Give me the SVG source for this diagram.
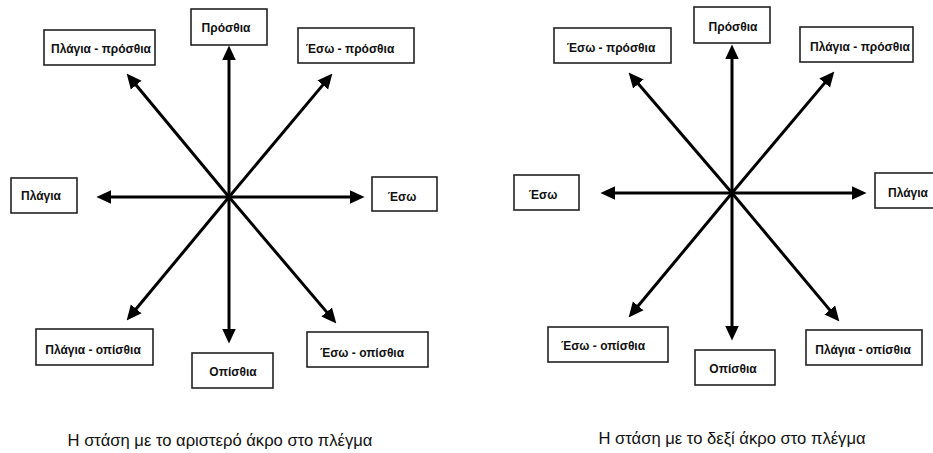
<svg xmlns="http://www.w3.org/2000/svg" width="933" height="453" viewBox="0 0 933 453">
<style>
.box{fill:#fff;stroke:#222;stroke-width:1.6}
.lbl{font-family:"Liberation Sans",Arial,sans-serif;font-weight:bold;font-size:12px;fill:#111;text-anchor:middle}
.cap{font-family:"Liberation Sans",Arial,sans-serif;font-size:16.6px;fill:#111;text-anchor:middle}
.arr{stroke:#000;stroke-width:3;fill:none;marker-end:url(#ah)}
</style>
<defs>
<marker id="ah" markerUnits="userSpaceOnUse" viewBox="0 0 14 14" refX="6" refY="7" markerWidth="15" markerHeight="15" orient="auto">
<path d="M0,0.5 L14,7 L0,13.5 z" fill="#000"/>
</marker>
</defs>
<rect width="933" height="453" fill="#fff"/>
<g id="connectors">
<line class="arr" x1="229" y1="197" x2="229" y2="54"/>
<line class="arr" x1="229" y1="197" x2="229" y2="335"/>
<line class="arr" x1="229" y1="197" x2="105" y2="197"/>
<line class="arr" x1="229" y1="197" x2="356" y2="197"/>
<line class="arr" x1="229" y1="197" x2="132.1" y2="80.2"/>
<line class="arr" x1="229" y1="197" x2="326.9" y2="80.1"/>
<line class="arr" x1="229" y1="197" x2="132.1" y2="313.8"/>
<line class="arr" x1="229" y1="197" x2="330.8" y2="316.9"/>
<line class="arr" x1="732" y1="193" x2="732" y2="53"/>
<line class="arr" x1="732" y1="193" x2="732" y2="332"/>
<line class="arr" x1="732" y1="193" x2="609" y2="193"/>
<line class="arr" x1="732" y1="193" x2="858" y2="193"/>
<line class="arr" x1="732" y1="193" x2="634.2" y2="79.1"/>
<line class="arr" x1="732" y1="193" x2="828.8" y2="78.1"/>
<line class="arr" x1="732" y1="193" x2="634.1" y2="310.8"/>
<line class="arr" x1="732" y1="193" x2="833.9" y2="314.9"/>
</g>
<g id="L-prosthia"><rect class="box" x="191" y="9" width="76" height="36"/><text class="lbl" x="226" y="32">Πρόσθια</text></g>
<g id="L-plagia-prosthia"><rect class="box" x="44" y="30" width="111" height="35"/><text class="lbl" x="101" y="53">Πλάγια - πρόσθια</text></g>
<g id="L-eso-prosthia"><rect class="box" x="298" y="28" width="116" height="35"/><text class="lbl" x="350" y="53">Έσω - πρόσθια</text></g>
<g id="L-plagia"><rect class="box" x="11" y="178" width="66" height="35"/><text class="lbl" x="41" y="200">Πλάγια</text></g>
<g id="L-eso"><rect class="box" x="372" y="177" width="65" height="34"/><text class="lbl" x="402" y="201">Έσω</text></g>
<g id="L-plagia-opisthia"><rect class="box" x="36" y="329" width="117" height="36"/><text class="lbl" x="93" y="354">Πλάγια - οπίσθια</text></g>
<g id="L-opisthia"><rect class="box" x="192" y="353" width="81" height="35"/><text class="lbl" x="233" y="376">Οπίσθια</text></g>
<g id="L-eso-opisthia"><rect class="box" x="307" y="332" width="121" height="35"/><text class="lbl" x="362" y="357">Έσω - οπίσθια</text></g>
<g id="L-caption"><text class="cap" x="220" y="446">Η στάση με το αριστερό άκρο στο πλέγμα</text></g>
<g id="R-prosthia"><rect class="box" x="694" y="7" width="76" height="36"/><text class="lbl" x="733" y="31">Πρόσθια</text></g>
<g id="R-eso-prosthia"><rect class="box" x="554" y="28" width="117" height="35"/><text class="lbl" x="611" y="52">Έσω - πρόσθια</text></g>
<g id="R-plagia-prosthia"><rect class="box" x="800" y="27" width="113" height="35"/><text class="lbl" x="860" y="51">Πλάγια - πρόσθια</text></g>
<g id="R-eso"><rect class="box" x="514" y="175" width="65" height="35"/><text class="lbl" x="543" y="199">Έσω</text></g>
<g id="R-plagia"><rect class="box" x="875" y="173" width="70" height="35"/><text class="lbl" x="908" y="197">Πλάγια</text></g>
<g id="R-eso-opisthia"><rect class="box" x="548" y="327" width="120" height="35"/><text class="lbl" x="603" y="350">Έσω - οπίσθια</text></g>
<g id="R-opisthia"><rect class="box" x="695" y="350" width="80" height="35"/><text class="lbl" x="733" y="373">Οπίσθια</text></g>
<g id="R-plagia-opisthia"><rect class="box" x="806" y="330" width="116" height="35"/><text class="lbl" x="863" y="354">Πλάγια - οπίσθια</text></g>
<g id="R-caption"><text class="cap" x="732" y="444">Η στάση με το δεξί άκρο στο πλέγμα</text></g>
</svg>
